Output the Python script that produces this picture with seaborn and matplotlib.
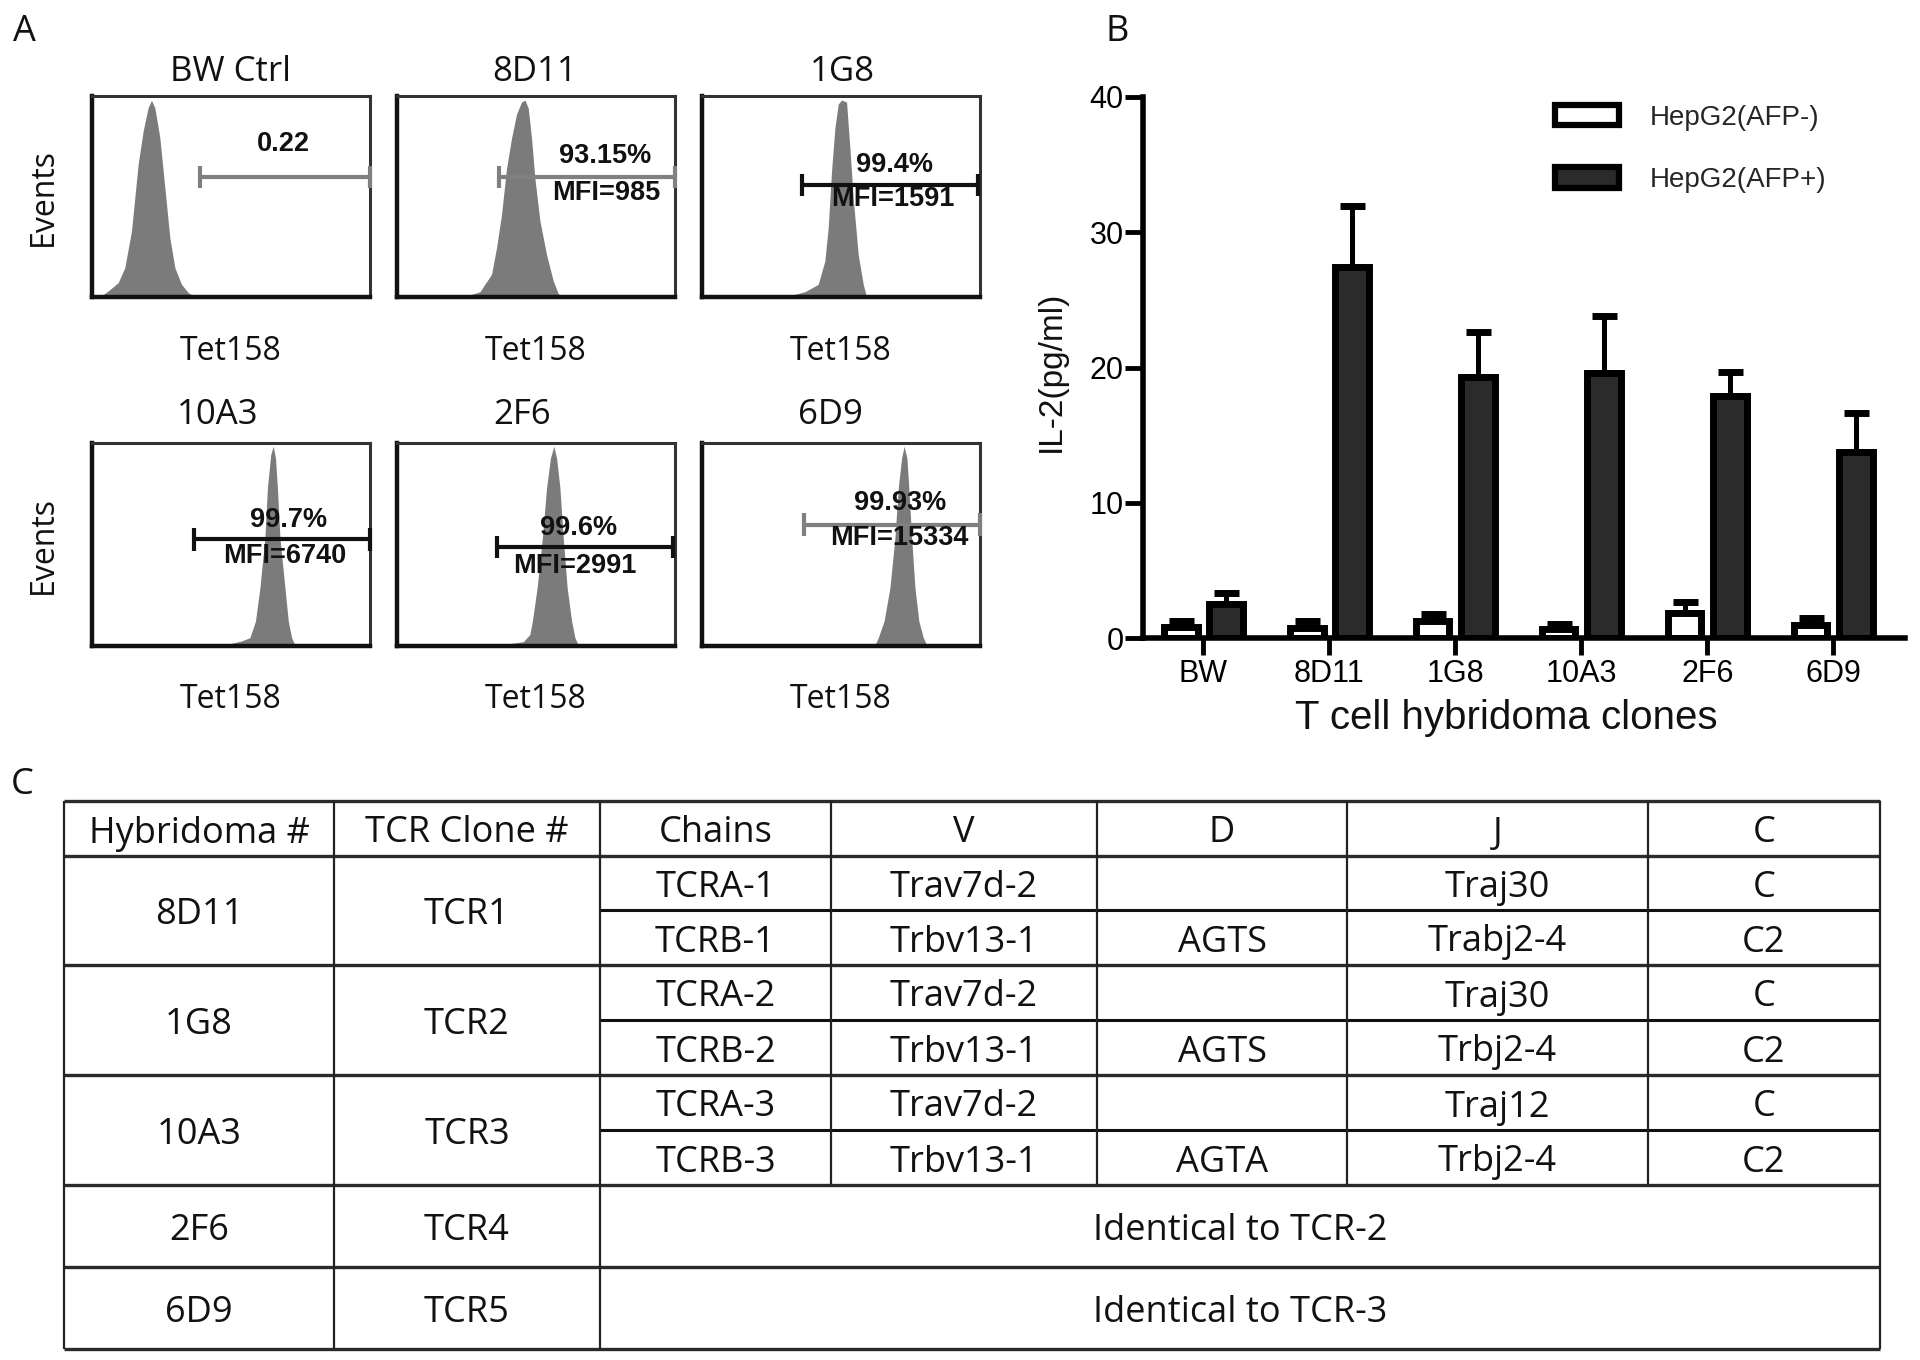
import numpy as np
import pandas as pd
import matplotlib
matplotlib.use("Agg")
import matplotlib.pyplot as plt
import seaborn as sns
from matplotlib.patches import Patch

# ---------------- data ----------------
# Panel A: flow-cytometry histograms (channel position 0-100, % of max events)
hist_titles = ["BW Ctrl", "8D11", "1G8", "10A3", "2F6", "6D9"]
hist_bw_x = [2.8, 5.8, 9.4, 11.8, 14.2, 15.4, 16.6, 18.4, 20.2, 21.4, 22.6, 24.4, 26.2, 28.0, 29.8, 32.2, 34.6, 37.0]
hist_bw_y = [0, 3.0, 7.1, 14.6, 32.8, 49.4, 66.0, 82.6, 94.2, 97.8, 94.2, 79.3, 54.4, 29.5, 14.6, 6.3, 2.2, 0]
hist_8d11_x = [25.0, 29.8, 32.8, 34.0, 35.8, 37.6, 39.4, 41.2, 43.0, 44.8, 46.0, 47.2, 48.4, 49.6, 51.4, 53.8, 56.2, 58.0, 59.8]
hist_8d11_y = [0.5, 2.6, 8.8, 11.3, 24.5, 41, 64, 79, 91, 97, 98, 94, 79, 59, 38, 21, 8, 1.7, 0]
hist_1g8_x = [31.0, 37.0, 41.8, 44.2, 45.4, 46.6, 47.8, 49.0, 50.2, 52.0, 53.2, 54.4, 56.2, 58.0, 59.2]
hist_1g8_y = [0.5, 2.6, 6.3, 18, 34.5, 62.7, 84, 96, 98, 97, 74, 49, 21, 6.3, 0]
hist_10a3_x = [47.8, 53.8, 56.8, 58.8, 60.4, 62.2, 63.1, 64.3, 65.2, 66.0, 66.7, 67.6, 69.4, 70.6, 71.8, 73.0]
hist_10a3_y = [0.5, 2.5, 4.1, 12.3, 28.7, 53.3, 77.9, 94.3, 98.4, 92.6, 77.9, 53.3, 28.7, 12.3, 4.1, 0.5]
hist_2f6_x = [37.0, 45.4, 47.8, 48.7, 50.4, 52.3, 53.8, 55.2, 56.4, 57.4, 58.6, 59.8, 61.2, 62.8, 64.0, 65.2]
hist_2f6_y = [0.5, 2.1, 5.7, 12.3, 28.7, 53.3, 77.9, 92.6, 98.4, 92.6, 77.9, 53.3, 28.7, 12.3, 4.1, 0.5]
hist_6d9_x = [62.2, 63.4, 65.5, 67.6, 69.4, 70.6, 71.8, 72.7, 73.7, 74.4, 75.4, 76.6, 78.0, 79.6, 80.8]
hist_6d9_y = [0.5, 4.1, 12.3, 28.7, 53.3, 77.9, 92.6, 98.4, 92.6, 77.9, 53.3, 28.7, 12.3, 4.1, 0.5]
hist_x = [hist_bw_x, hist_8d11_x, hist_1g8_x, hist_10a3_x, hist_2f6_x, hist_6d9_x]
hist_y = [hist_bw_y, hist_8d11_y, hist_1g8_y, hist_10a3_y, hist_2f6_y, hist_6d9_y]
gate_lo = [38.8, 36.7, 36.0, 36.7, 36.0, 36.7]
gate_hi = [100, 100, 99.4, 100, 99.4, 100]
gate_y = [59.7, 59.7, 55.6, 52.5, 48.7, 59.8]
pct_labels = ["0.22", "93.15%", "99.4%", "99.7%", "99.6%", "99.93%"]
mfi_labels = ["", "MFI=985", "MFI=1591", "MFI=6740", "MFI=2991", "MFI=15334"]
x_label_a = "Tet158"
y_label_a = "Events"

# Panel B: IL-2 secretion
clones = ["BW", "8D11", "1G8", "10A3", "2F6", "6D9"]
conditions = ["HepG2(AFP-)", "HepG2(AFP+)"]
il2_afp_neg = [0.85, 0.75, 1.22, 0.65, 1.84, 0.93]
il2_afp_neg_err = [0.37, 0.54, 0.55, 0.41, 0.83, 0.55]
il2_afp_pos = [2.5, 27.4, 19.3, 19.6, 17.9, 13.75]
il2_afp_pos_err = [0.8, 4.55, 3.3, 4.2, 1.8, 2.92]

# Panel C: TCR table
table_header = ["Hybridoma #", "TCR Clone #", "Chains", "V", "D", "J", "C"]
hybridomas = ["8D11", "1G8", "10A3", "2F6", "6D9"]
tcr_clones = ["TCR1", "TCR2", "TCR3", "TCR4", "TCR5"]
chains = ["TCRA-1", "TCRB-1", "TCRA-2", "TCRB-2", "TCRA-3", "TCRB-3"]
v_genes = ["Trav7d-2", "Trbv13-1", "Trav7d-2", "Trbv13-1", "Trav7d-2", "Trbv13-1"]
d_genes = ["", "AGTS", "", "AGTS", "", "AGTA"]
j_genes = ["Traj30", "Trabj2-4", "Traj30", "Trbj2-4", "Traj12", "Trbj2-4"]
c_genes = ["C", "C2", "C", "C2", "C", "C2"]
identical_notes = ["Identical to TCR-2", "Identical to TCR-3"]

# ---------------- style / layout ----------------
sns.set_theme(style="white")
plt.rcParams["font.family"] = ["Open Sans", "DejaVu Sans"]
ARIAL = ["Liberation Sans", "DejaVu Sans"]
W, H = 1920, 1360
fig = plt.figure(figsize=(19.2, 13.6), dpi=100)
fig.patch.set_facecolor("white")


def fx(px):
    return px / W


def fy(py):
    return 1 - py / H


# panel letters
for letter, (px, py) in zip("ABC", [(24, 32), (1117, 32), (22, 785)]):
    fig.text(fx(px), fy(py), letter, ha="center", va="center", fontsize=26, color="#111")

# ---------------- Panel A ----------------
hist_boxes = [(92, 96, 370, 297), (397, 96, 675, 297), (702, 96, 980, 297),
              (92, 443, 370, 646), (397, 443, 675, 646), (702, 443, 980, 646)]
gate_colors = ["#808080", "#808080", "#111111", "#111111", "#111111", "#808080"]
pct_pos = [(68.8, 76.3), (74.8, 70.1), (69.1, 65.7), (70.6, 62.3), (65.2, 57.9), (71.2, 70.5)]
mfi_pos = [None, (75.4, 51.9), (68.8, 48.6), (69.4, 44.3), (64.0, 39.3), (70.8, 53.3)]
title_pos = [(231, 72), (535, 72), (842, 72), (218, 415), (522, 415), (830, 415)]

for i in range(6):
    x0, y0, x1, y1 = hist_boxes[i]
    ax = fig.add_axes([fx(x0), fy(y1), fx(x1 - x0), (y1 - y0) / H])
    ax.fill_between(hist_x[i], hist_y[i], 0, color="#7b7b7b", lw=0, zorder=1)
    ax.set_xlim(0, 100)
    ax.set_ylim(0, 100)
    ax.set_xticks([])
    ax.set_yticks([])
    for s in ["left", "bottom"]:
        ax.spines[s].set_linewidth(3.2)
        ax.spines[s].set_color("#111")
    for s in ["top", "right"]:
        ax.spines[s].set_linewidth(2.2)
        ax.spines[s].set_color("#333")
    gc = gate_colors[i]
    ax.hlines(gate_y[i], gate_lo[i], gate_hi[i], color=gc, lw=3, zorder=3, clip_on=False)
    ax.vlines([gate_lo[i], gate_hi[i]], gate_y[i] - 5.5, gate_y[i] + 5.5, color=gc, lw=3,
              zorder=3, clip_on=False)
    px, py = pct_pos[i]
    ax.text(px, py, pct_labels[i], ha="center", va="center", fontsize=19.5,
            fontweight="bold", family=ARIAL, color="#111", zorder=4)
    if mfi_pos[i] is not None:
        mx, my = mfi_pos[i]
        ax.text(mx, my, mfi_labels[i], ha="center", va="center", fontsize=19.5,
                fontweight="bold", family=ARIAL, color="#111", zorder=4)
    tx, ty = title_pos[i]
    fig.text(fx(tx), fy(ty), hist_titles[i], ha="center", va="center", fontsize=25, color="#111")
    fig.text(fx((x0 + x1) / 2), fy(y1 + 54), x_label_a, ha="center", va="center",
             fontsize=23, color="#111")
    if i % 3 == 0:
        fig.text(fx(43), fy((y0 + y1) / 2), y_label_a, ha="center", va="center",
                 rotation=90, fontsize=23, color="#111")

# ---------------- Panel B ----------------
df = pd.DataFrame({
    "clone": clones * 2,
    "cond": [conditions[0]] * len(clones) + [conditions[1]] * len(clones),
    "il2": il2_afp_neg + il2_afp_pos,
})
bx0, by0, bx1, by1 = 1143, 97, 1905, 638
axb = fig.add_axes([fx(bx0), fy(by1), fx(bx1 - bx0), (by1 - by0) / H])
palette = {conditions[0]: "white", conditions[1]: "#2b2b2b"}
sns.barplot(data=df, x="clone", y="il2", hue="cond", order=clones, hue_order=conditions,
            palette=palette, edgecolor="black", linewidth=5, width=0.72, gap=0.26,
            errorbar=None, legend=False, ax=axb, saturation=1)
bar_containers = list(axb.containers)
for cont, errs in zip(bar_containers, [il2_afp_neg_err, il2_afp_pos_err]):
    xs = [b.get_x() + b.get_width() / 2 for b in cont]
    ys = [b.get_height() for b in cont]
    axb.errorbar(xs, ys, yerr=[np.zeros(len(errs)), errs], fmt="none", ecolor="black",
                 elinewidth=3.6, capsize=9, capthick=5, zorder=0.5)
axb.set_xlim(-0.48, 5.57)
axb.set_ylim(0, 40)
axb.set_yticks([0, 10, 20, 30, 40])
sns.despine(ax=axb)
for s in ["left", "bottom"]:
    axb.spines[s].set_linewidth(4)
    axb.spines[s].set_color("black")
axb.tick_params(axis="y", direction="out", length=13, width=3.5, pad=1, labelsize=22,
                left=True, colors="black")
axb.tick_params(axis="x", direction="out", length=12, width=3.5, pad=3, labelsize=22,
                bottom=True, colors="black")
for lab in axb.get_xticklabels() + axb.get_yticklabels():
    lab.set_family(ARIAL)
axb.set_xlabel("T cell hybridoma clones", fontsize=29, family=ARIAL, color="#111")
axb.xaxis.set_label_coords((1506 - bx0) / (bx1 - bx0), -(718 - by1) / (by1 - by0))
axb.xaxis.label.set_va("center")
axb.set_ylabel("IL-2(pg/ml)", fontsize=24, family=ARIAL, color="#111")
axb.yaxis.set_label_coords((1051 - bx0) / (bx1 - bx0), (by1 - 371) / (by1 - by0))
axb.yaxis.label.set_va("center")
handles = [Patch(facecolor=palette[c], edgecolor="black", linewidth=4.5, label=c) for c in conditions]
leg = axb.legend(handles=handles, loc="upper left",
                 bbox_to_anchor=((1555 - bx0) / (bx1 - bx0), (by1 - 105) / (by1 - by0)),
                 frameon=False, fontsize=20, handlelength=2.3, handleheight=0.75,
                 labelspacing=1.3, handletextpad=1.1, borderpad=0, borderaxespad=0)
for t in leg.get_texts():
    t.set_family(ARIAL)
axb.set_facecolor("white")

# ---------------- Panel C ----------------
axt = fig.add_axes([0, 0, 1, 1], zorder=-1)
axt.set_xlim(0, W)
axt.set_ylim(H, 0)
axt.axis("off")
col_edges = [64, 334, 600, 831, 1097, 1347, 1648, 1880]
row_edges = [801, 856, 910, 965, 1020, 1075, 1130, 1185, 1267, 1349]
full_rows = [801, 856, 965, 1075, 1185, 1267, 1349]
sub_rows = [910, 1020, 1130]
for y in full_rows:
    axt.hlines(y, col_edges[0], col_edges[-1], color="#2a2a2a", lw=2.4)
for y in sub_rows:
    axt.hlines(y, col_edges[2], col_edges[-1], color="#111", lw=2.2)
for x in [col_edges[0], col_edges[1], col_edges[2], col_edges[-1]]:
    axt.vlines(x, row_edges[0], row_edges[-1], color="#222", lw=1.6)
for x in col_edges[3:-1]:
    axt.vlines(x, row_edges[0], row_edges[7], color="#222", lw=1.6)

TDY = 5  # text baseline nudge inside cells
col_c = [(col_edges[k] + col_edges[k + 1]) / 2 for k in range(7)]
row_c = [(row_edges[k] + row_edges[k + 1]) / 2 + TDY for k in range(9)]
TFS = 26
for k, h in enumerate(table_header):
    axt.text(col_c[k], row_c[0], h, ha="center", va="center", fontsize=TFS, color="#111")
for g in range(3):
    yc = (row_edges[1 + 2 * g] + row_edges[3 + 2 * g]) / 2 + TDY
    axt.text(col_c[0], yc, hybridomas[g], ha="center", va="center", fontsize=TFS, color="#111")
    axt.text(col_c[1], yc, tcr_clones[g], ha="center", va="center", fontsize=TFS, color="#111")
for r in range(6):
    yc = row_c[1 + r]
    for k, vals in enumerate([chains, v_genes, d_genes, j_genes, c_genes]):
        if vals[r]:
            axt.text(col_c[2 + k], yc, vals[r], ha="center", va="center", fontsize=TFS, color="#111")
for j in range(2):
    yc = row_c[7 + j]
    axt.text(col_c[0], yc, hybridomas[3 + j], ha="center", va="center", fontsize=TFS, color="#111")
    axt.text(col_c[1], yc, tcr_clones[3 + j], ha="center", va="center", fontsize=TFS, color="#111")
    axt.text((col_edges[2] + col_edges[-1]) / 2, yc, identical_notes[j], ha="center",
             va="center", fontsize=TFS, color="#111")

fig.savefig("out.png", dpi=100, facecolor="white")
